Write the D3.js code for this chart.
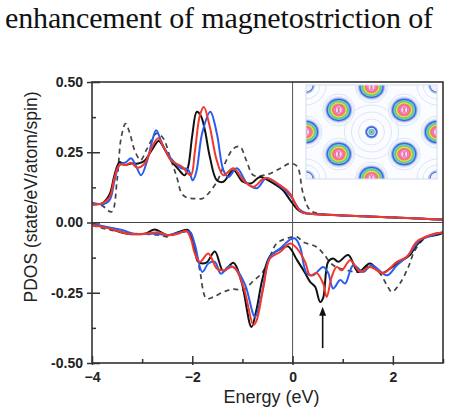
<!DOCTYPE html>
<html>
<head>
<meta charset="utf-8">
<script src="https://cdn.jsdelivr.net/npm/d3@7"></script>
<style>
  body { margin: 0; background: #fff; }
  svg { display: block; }
</style>
</head>
<body>
<div id="vis"></div>
<script>
//data----- energy (eV), PDOS
const upBlack = [[-4.0,0.065],[-3.8,0.068],[-3.65,0.10],[-3.55,0.17],[-3.45,0.215],[-3.35,0.205],[-3.22,0.21],[-3.08,0.21],[-2.95,0.22],[-2.8,0.26],[-2.67,0.29],[-2.55,0.26],[-2.42,0.22],[-2.28,0.19],[-2.15,0.168],[-2.08,0.20],[-2.0,0.31],[-1.91,0.394],[-1.83,0.38],[-1.75,0.33],[-1.65,0.234],[-1.51,0.15],[-1.38,0.145],[-1.18,0.186],[-0.99,0.145],[-0.82,0.14],[-0.65,0.162],[-0.39,0.14],[-0.19,0.115],[-0.05,0.08],[0.08,0.05],[0.2,0.035],[0.4,0.03],[1.0,0.025],[2.0,0.018],[3.0,0.01]]
const upBlue = [[-4.0,0.07],[-3.8,0.065],[-3.65,0.08],[-3.55,0.15],[-3.45,0.205],[-3.32,0.215],[-3.22,0.229],[-3.12,0.2],[-3.02,0.168],[-2.9,0.22],[-2.8,0.29],[-2.72,0.328],[-2.6,0.28],[-2.43,0.229],[-2.22,0.193],[-2.09,0.19],[-1.99,0.15],[-1.92,0.18],[-1.8,0.32],[-1.64,0.394],[-1.51,0.317],[-1.38,0.186],[-1.28,0.162],[-1.11,0.193],[-0.91,0.14],[-0.71,0.122],[-0.52,0.158],[-0.25,0.13],[-0.05,0.097],[0.15,0.044],[0.3,0.032],[0.5,0.03],[1.0,0.025],[2.0,0.018],[3.0,0.01]]
const upRed = [[-4.0,0.065],[-3.8,0.068],[-3.65,0.09],[-3.55,0.16],[-3.45,0.205],[-3.32,0.205],[-3.22,0.213],[-3.1,0.195],[-2.95,0.21],[-2.8,0.27],[-2.68,0.30],[-2.55,0.26],[-2.42,0.22],[-2.2,0.198],[-2.03,0.168],[-1.95,0.25],[-1.85,0.38],[-1.77,0.411],[-1.65,0.34],[-1.51,0.22],[-1.38,0.168],[-1.18,0.193],[-0.98,0.15],[-0.78,0.127],[-0.55,0.158],[-0.25,0.133],[-0.05,0.103],[0.09,0.055],[0.2,0.035],[0.4,0.03],[1.0,0.025],[2.0,0.018],[3.0,0.01]]
const upDash = [[-4.0,0.068],[-3.8,0.06],[-3.61,0.038],[-3.5,0.15],[-3.42,0.30],[-3.33,0.352],[-3.25,0.32],[-3.15,0.257],[-3.03,0.222],[-2.91,0.26],[-2.71,0.317],[-2.58,0.30],[-2.44,0.23],[-2.31,0.162],[-2.21,0.103],[-2.1,0.088],[-1.95,0.085],[-1.8,0.085],[-1.71,0.097],[-1.51,0.145],[-1.38,0.198],[-1.18,0.263],[-1.05,0.27],[-0.92,0.22],[-0.78,0.168],[-0.52,0.17],[-0.25,0.192],[-0.05,0.21],[0.09,0.2],[0.21,0.103],[0.35,0.044],[0.6,0.03],[1.0,0.025],[2.0,0.018],[3.0,0.01]]

const dnBlack = [[-4.0,-0.005],[-3.7,-0.018],[-3.35,-0.038],[-2.95,-0.04],[-2.75,-0.025],[-2.49,-0.045],[-2.25,-0.033],[-2.08,-0.027],[-1.95,-0.1],[-1.88,-0.14],[-1.72,-0.143],[-1.55,-0.103],[-1.38,-0.173],[-1.18,-0.143],[-1.02,-0.21],[-0.82,-0.372],[-0.72,-0.31],[-0.6,-0.2],[-0.45,-0.12],[-0.25,-0.095],[-0.09,-0.085],[0.09,-0.134],[0.25,-0.18],[0.35,-0.211],[0.45,-0.229],[0.55,-0.283],[0.61,-0.268],[0.71,-0.14],[0.81,-0.128],[0.91,-0.14],[1.11,-0.116],[1.31,-0.176],[1.54,-0.146],[1.78,-0.18],[1.94,-0.164],[2.14,-0.14],[2.34,-0.116],[2.47,-0.081],[2.67,-0.051],[2.87,-0.045],[3.0,-0.037]]
const dnBlue = [[-4.0,-0.005],[-3.4,-0.027],[-3.15,-0.04],[-2.7,-0.04],[-2.49,-0.045],[-2.18,-0.033],[-2.05,-0.033],[-1.95,-0.078],[-1.8,-0.176],[-1.68,-0.146],[-1.55,-0.14],[-1.43,-0.182],[-1.26,-0.155],[-1.11,-0.17],[-0.94,-0.225],[-0.75,-0.336],[-0.62,-0.26],[-0.45,-0.122],[-0.25,-0.093],[-0.05,-0.061],[0.05,-0.057],[0.15,-0.087],[0.28,-0.18],[0.41,-0.188],[0.61,-0.158],[0.71,-0.18],[0.81,-0.235],[0.95,-0.205],[1.05,-0.217],[1.21,-0.152],[1.41,-0.176],[1.58,-0.152],[1.88,-0.188],[2.08,-0.152],[2.31,-0.116],[2.54,-0.063],[2.81,-0.045],[3.0,-0.035]]
const dnRed = [[-4.0,-0.01],[-3.68,-0.02],[-3.28,-0.04],[-2.88,-0.039],[-2.68,-0.035],[-2.49,-0.045],[-2.28,-0.04],[-2.12,-0.03],[-2.02,-0.063],[-1.95,-0.11],[-1.85,-0.14],[-1.68,-0.11],[-1.51,-0.164],[-1.38,-0.17],[-1.18,-0.158],[-0.98,-0.229],[-0.78,-0.365],[-0.72,-0.35],[-0.58,-0.229],[-0.45,-0.128],[-0.25,-0.105],[-0.05,-0.075],[0.09,-0.093],[0.25,-0.14],[0.35,-0.188],[0.48,-0.18],[0.61,-0.217],[0.68,-0.265],[0.78,-0.194],[0.88,-0.158],[0.98,-0.17],[1.15,-0.134],[1.35,-0.176],[1.54,-0.158],[1.81,-0.18],[2.08,-0.14],[2.28,-0.122],[2.47,-0.069],[2.74,-0.045],[3.0,-0.035]]
const dnDash = [[-4.0,-0.01],[-3.77,-0.021],[-3.44,-0.033],[-3.18,-0.039],[-2.65,-0.045],[-2.51,-0.051],[-2.25,-0.036],[-2.05,-0.033],[-1.95,-0.087],[-1.85,-0.17],[-1.72,-0.27],[-1.58,-0.265],[-1.38,-0.247],[-1.18,-0.237],[-0.98,-0.24],[-0.78,-0.207],[-0.61,-0.18],[-0.48,-0.134],[-0.32,-0.075],[-0.12,-0.057],[0.09,-0.051],[0.21,-0.069],[0.48,-0.087],[0.61,-0.11],[0.81,-0.152],[1.08,-0.17],[1.35,-0.176],[1.54,-0.152],[1.74,-0.18],[1.88,-0.223],[1.98,-0.247],[2.14,-0.217],[2.31,-0.158],[2.44,-0.099],[2.67,-0.051],[3.0,-0.035]]

const xMajor = [-4, -2, 0, 2]
const xMinor = [-3, -1, 1, 3]
const yMajor = [-0.5, -0.25, 0, 0.25, 0.5]
const yMinor = [-0.375, -0.125, 0.125, 0.375]

// arrow marking the peak (energy, from, to)
const arrowAt = [0.6, -0.447, -0.30]

// inset charge density map: blob centres in unit coords
const bigBlobs = [[0.25,0.265],[0.75,0.265],[0.25,0.735],[0.75,0.735],[0.5,0.02],[0.5,0.99],[0.0,0.5],[1.0,0.5]]
const cornerRings = [[0,0],[1,0],[0,1],[1,1]]
const centreRing = [[0.5,0.5]]

//dimensions----
let dimensions = {
    width: 450,
    height: 411,
    margins: { left: 92, right: 7, top: 82, bottom: 48 },
}
dimensions.boundedwidth = dimensions.width - dimensions.margins.left - dimensions.margins.right
dimensions.boundedheight = dimensions.height - dimensions.margins.top - dimensions.margins.bottom

const wrapper = d3.select("#vis").append("svg")
    .attr("width", dimensions.width)
    .attr("height", dimensions.height)
    .style("font-family", "'Liberation Sans', Arial, sans-serif")

// caption text from the page above the figure
wrapper.append("text")
    .attr("x", 5).attr("y", 28)
    .attr("textLength", 428).attr("lengthAdjust", "spacing")
    .style("font-family", "'Liberation Serif', 'Times New Roman', serif")
    .style("font-size", "30px")
    .attr("fill", "#111")
    .text("enhancement of magnetostriction of")

const bounds = wrapper.append("g")
    .attr("transform", `translate(${dimensions.margins.left},${dimensions.margins.top})`)

//scales----
const xScale = d3.scaleLinear().domain([-4, 3]).range([0, dimensions.boundedwidth])
const yScale = d3.scaleLinear().domain([-0.5, 0.5]).range([dimensions.boundedheight, 0])

bounds.append("clipPath").attr("id", "plotclip")
    .append("rect").attr("width", dimensions.boundedwidth).attr("height", dimensions.boundedheight)

// zero lines
bounds.append("line")
    .attr("x1", 0).attr("x2", dimensions.boundedwidth)
    .attr("y1", yScale(0)).attr("y2", yScale(0))
    .attr("stroke", "#444").attr("stroke-width", 1.2)
bounds.append("line")
    .attr("x1", xScale(0)).attr("x2", xScale(0))
    .attr("y1", 0).attr("y2", dimensions.boundedheight)
    .attr("stroke", "#555").attr("stroke-width", 1)

//inset map----
const inset = { x: 214, y: 3, w: 131, h: 94 }
const ix = d3.scaleLinear().domain([0, 1]).range([inset.x, inset.x + inset.w])
const iy = d3.scaleLinear().domain([0, 1]).range([inset.y, inset.y + inset.h])

bounds.append("clipPath").attr("id", "insetclip")
    .append("rect").attr("x", inset.x).attr("y", inset.y).attr("width", inset.w).attr("height", inset.h)

const map = bounds.append("g").attr("clip-path", "url(#insetclip)")
map.append("rect")
    .attr("x", inset.x).attr("y", inset.y).attr("width", inset.w).attr("height", inset.h)
    .attr("fill", "#fbfcff")

// faint background contours
const faint = [[0.5,0.5,13],[0.5,0.5,20],[0.5,0.5,27]]
bigBlobs.forEach(b => faint.push([b[0], b[1], 16]))
cornerRings.forEach(b => faint.push([b[0], b[1], 14], [b[0], b[1], 20]))
map.selectAll(".faint").data(faint).enter().append("circle")
    .attr("cx", d => ix(d[0])).attr("cy", d => iy(d[1])).attr("r", d => d[2])
    .attr("fill", "none").attr("stroke", "#d3def4").attr("stroke-width", 0.8)

const bands = [
    [14.5, "#e4ecfa"], [12.8, "#9fb6ea"], [11.7, "#3f63d8"], [10.4, "#6fc8ea"],
    [9.2, "#5fd06a"], [7.9, "#e4e246"], [6.7, "#f58a4a"], [5.6, "#f46aa8"], [4.3, "#f7a6d0"]
]
const blobs = map.selectAll(".blob").data(bigBlobs).enter().append("g")
    .attr("transform", d => `translate(${ix(d[0])},${iy(d[1])})`)
bands.forEach(b => {
    blobs.append("ellipse").attr("rx", b[0] * 1.04).attr("ry", b[0] * 0.96).attr("fill", b[1])
})
blobs.selectAll(".lobe").data([-1.9, 1.9]).enter().append("ellipse")
    .attr("cx", d => d).attr("rx", 1.6).attr("ry", 3.2)
    .attr("fill", "#fbd6ea").attr("stroke", "#d9489a").attr("stroke-width", 0.7)

const cornerBands = [[9, "#aabfee"], [7.6, "#4a6bda"], [6.6, "#eef3fc"]]
cornerRings.forEach(c => {
    cornerBands.forEach(b => {
        map.append("circle").attr("cx", ix(c[0])).attr("cy", iy(c[1])).attr("r", b[0]).attr("fill", b[1])
    })
})
const centreBands = [[6.5, "#7d96e4"], [5.4, "#2f58d6"], [4.3, "#eaf2fc"], [3.2, "#4ec2e6"], [2, "#8fd4a8"], [1.1, "#ef5a5a"]]
centreRing.forEach(c => {
    centreBands.forEach(b => {
        map.append("circle").attr("cx", ix(c[0])).attr("cy", iy(c[1])).attr("r", b[0]).attr("fill", b[1])
    })
})
bounds.append("rect")
    .attr("x", inset.x).attr("y", inset.y).attr("width", inset.w).attr("height", inset.h)
    .attr("fill", "none").attr("stroke", "#d3dcf0").attr("stroke-width", 1)

//lines----
const lineGen = d3.line()
    .x(d => xScale(d[0]))
    .y(d => yScale(d[1]))
    .curve(d3.curveCatmullRom.alpha(0.5))

const series = [
    { data: upDash, color: "#444", width: 1.7, dash: "5,4" },
    { data: dnDash, color: "#444", width: 1.7, dash: "5,4" },
    { data: upBlack, color: "#111", width: 2, dash: null },
    { data: dnBlack, color: "#111", width: 2, dash: null },
    { data: upBlue, color: "#2a5ef0", width: 2, dash: null },
    { data: dnBlue, color: "#2a5ef0", width: 2, dash: null },
    { data: upRed, color: "#f2382a", width: 2, dash: null },
    { data: dnRed, color: "#f2382a", width: 2, dash: null },
]
bounds.append("g").attr("clip-path", "url(#plotclip)")
    .selectAll("path").data(series).enter().append("path")
    .attr("d", d => lineGen(d.data))
    .attr("fill", "none")
    .attr("stroke", d => d.color)
    .attr("stroke-width", d => d.width)
    .attr("stroke-dasharray", d => d.dash)
    .attr("stroke-linejoin", "round")

// arrow
const ax = xScale(arrowAt[0])
bounds.append("line")
    .attr("x1", ax).attr("x2", ax)
    .attr("y1", yScale(arrowAt[1])).attr("y2", yScale(arrowAt[2]) + 6)
    .attr("stroke", "#111").attr("stroke-width", 1.6)
bounds.append("path")
    .attr("d", `M${ax},${yScale(arrowAt[2])} L${ax - 3.5},${yScale(arrowAt[2]) + 9} L${ax + 3.5},${yScale(arrowAt[2]) + 9} Z`)
    .attr("fill", "#111")

//axes----
const tickFmt = d => d.toFixed(2)
const yAxisLabels = d3.axisLeft(yScale).tickValues(yMajor).tickSize(5).tickPadding(4).tickFormat(tickFmt)
const yAxisIn = d3.axisLeft(yScale).tickValues(yMajor).tickSize(-8).tickFormat("")
const yAxisMinor = d3.axisLeft(yScale).tickValues(yMinor).tickSize(-4).tickFormat("")
const xAxisLabels = d3.axisBottom(xScale).tickValues(xMajor).tickSize(2).tickPadding(7).tickFormat(d3.format("d"))
const xAxisIn = d3.axisBottom(xScale).tickValues(xMajor).tickSize(-7).tickFormat("")
const xAxisMinor = d3.axisBottom(xScale).tickValues(xMinor).tickSize(-4).tickFormat("")

const gy = bounds.append("g")
gy.append("g").call(yAxisLabels)
gy.append("g").call(yAxisIn)
gy.append("g").call(yAxisMinor)
const gx = bounds.append("g").attr("transform", `translate(0,${dimensions.boundedheight})`)
gx.append("g").call(xAxisLabels)
gx.append("g").call(xAxisIn)
gx.append("g").call(xAxisMinor)

bounds.selectAll(".domain").remove()
bounds.selectAll(".tick line").attr("stroke", "#333").attr("stroke-width", 1.5)
bounds.selectAll(".tick text")
    .attr("fill", "#222")
    .style("font-size", "14px")
    .style("font-weight", "bold")
    .style("font-family", "'Liberation Sans', Arial, sans-serif")

// frame
bounds.append("rect")
    .attr("width", dimensions.boundedwidth).attr("height", dimensions.boundedheight)
    .attr("fill", "none").attr("stroke", "#333").attr("stroke-width", 1.6)

// axis titles
bounds.append("text")
    .attr("x", dimensions.boundedwidth / 2 + 4)
    .attr("y", dimensions.boundedheight + 40)
    .attr("text-anchor", "middle")
    .style("font-size", "18px")
    .attr("fill", "#222")
    .text("Energy (eV)")
bounds.append("text")
    .attr("transform", `translate(${-55},${115}) rotate(-90)`)
    .attr("text-anchor", "middle")
    .style("font-size", "17.5px")
    .attr("fill", "#222")
    .text("PDOS (state/eV/atom/spin)")
</script>
</body>
</html>
